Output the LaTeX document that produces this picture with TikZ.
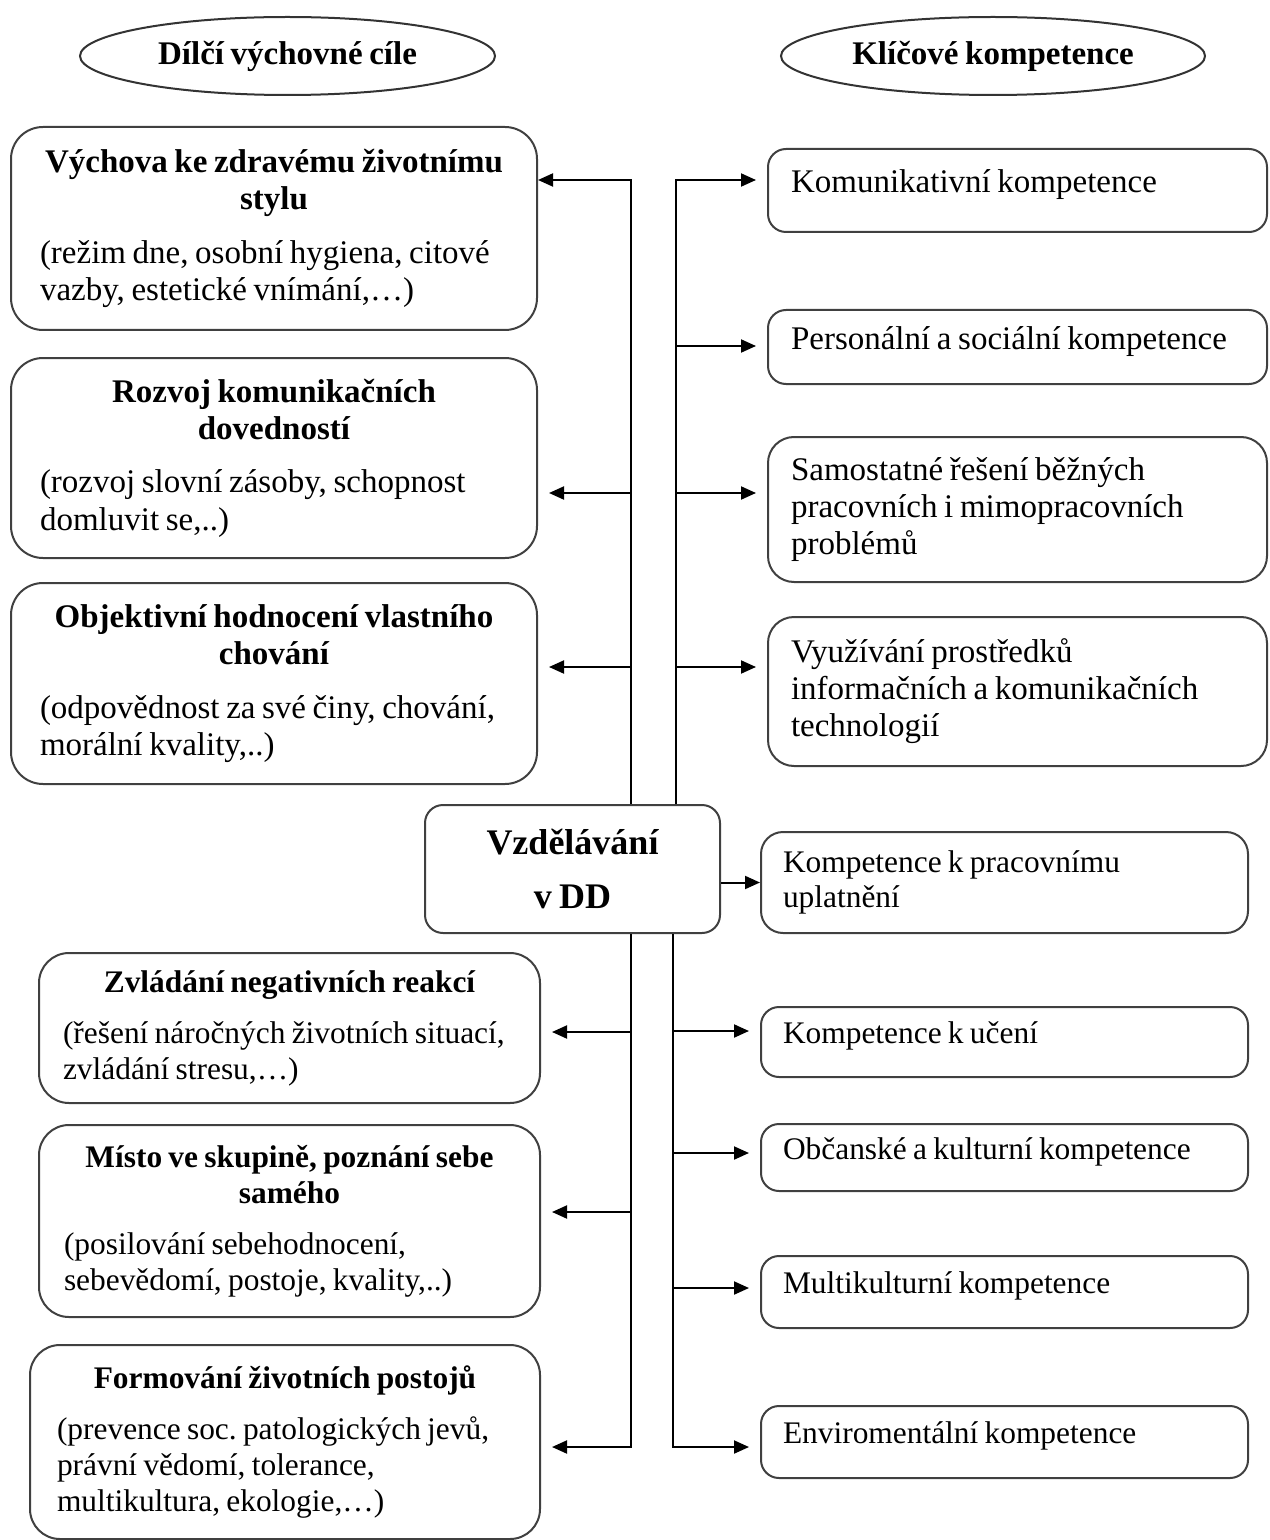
\documentclass[tikz,border=0pt]{standalone}
\usepackage{fontspec}
\setmainfont{Liberation Serif}[WordSpace=0.8]
\frenchspacing
\usetikzlibrary{arrows.meta,shapes,calc}

\tikzset{
  cil/.style={ellipse, draw=black!80, line width=1pt, minimum width=207.5pt, minimum height=39pt, font=\fontsize{16.5}{19}\selectfont\bfseries},
  lbox/.style={draw=black!75, line width=1pt, rounded corners=16pt, align=flush left, inner ysep=2pt, font=\fontsize{16.5}{18.7}\selectfont},
  ldbox/.style={lbox, rounded corners=15pt, font=\fontsize{15.7}{18}\selectfont},
  rbox/.style={draw=black!75, line width=1pt, rounded corners=9pt, align=flush left, inner xsep=11.5pt, inner ysep=2pt, text width=226.5pt, minimum width=249.5pt, font=\fontsize{16.5}{18.5}\selectfont},
  rdbox/.style={rbox, inner xsep=11pt, text width=221.5pt, minimum width=243.5pt, font=\fontsize{15.7}{17.5}\selectfont},
  jeden/.style={text depth=9pt},
  vetev/.style={->, line width=1pt},
  mezera/.style={shorten >=5.5pt}
}

\begin{document}
\begin{tikzpicture}[x=0.5pt, y=-0.5pt, >={Triangle[length=7.5pt,width=6.5pt]}]
\useasboundingbox (0,0) rectangle (1269,1540);

% hlavicky
\node [cil] (cile) at (287.5,56) {Dílčí výchovné cíle};
\node [cil, minimum width=212pt] (komp) at (993,56) {Klíčové kompetence};

% stred
\node [draw=black!75, line width=1pt, rounded corners=9pt, minimum width=147.5pt, minimum height=64pt, align=center, font=\fontsize{18}{27}\selectfont\bfseries] (vzd) at (572.5,869) {Vzdělávání\\v DD};

% leve boxy nahore
\node [lbox, inner xsep=14.5pt, text width=234pt, minimum width=263pt, minimum height=101.5pt] (L1) at (274,228.5)
  {{\centering\bfseries Výchova ke zdravému životnímu\\stylu\par}\vspace{8pt}(režim dne, osobní hygiena, citové\\vazby, estetické vnímání,…)};
\node [lbox, inner xsep=14.5pt, text width=234pt, minimum width=263pt, minimum height=100pt] (L2) at (274,458)
  {{\centering\bfseries Rozvoj komunikačních\\dovedností\par}\vspace{8pt}(rozvoj slovní zásoby, schopnost\\domluvit se,..)};
\node [lbox, inner xsep=14.5pt, text width=234pt, minimum width=263pt, minimum height=100.5pt] (L3) at (274,683.5)
  {{\centering\bfseries Objektivní hodnocení vlastního\\chování\par}\vspace{8pt}(odpovědnost za své činy, chování,\\morální kvality,..)};

% leve boxy dole
\node [ldbox, inner xsep=12pt, text width=226.5pt, minimum width=250.5pt, minimum height=75pt] (L4) at (289.5,1028)
  {{\centering\bfseries Zvládání negativních reakcí\par}\vspace{7.5pt}(řešení náročných životních situací,\\zvládání stresu,…)};
\node [ldbox, inner xsep=12.5pt, text width=225.5pt, minimum width=250.5pt, minimum height=96pt] (L5) at (289.5,1221)
  {{\centering\bfseries Místo ve skupině, poznání sebe\\samého\par}\vspace{7.5pt}(posilování sebehodnocení,\\sebevědomí, postoje, kvality,..)};
\node [ldbox, inner xsep=13.5pt, text width=228pt, minimum width=255pt, minimum height=97pt] (L6) at (285,1442)
  {{\centering\bfseries Formování životních postojů\par}\vspace{7.5pt}(prevence soc. patologických jevů,\\právní vědomí, tolerance,\\multikultura, ekologie,…)};

% prave boxy
\node [rbox, jeden, minimum height=41.5pt] (R1) at (1017.5,190.5) {Komunikativní kompetence};
\node [rbox, jeden, minimum height=37pt] (R2) at (1017.5,347) {Personální a sociální kompetence};
\node [rbox, rounded corners=13pt, minimum height=72.5pt] (R3) at (1017.5,509.5) {Samostatné řešení běžných\\pracovních i mimopracovních\\problémů};
\node [rbox, rounded corners=13pt, minimum height=74.5pt] (R4) at (1017.5,691.5) {Využívání prostředků\\informačních a komunikačních\\technologií};
\node [rdbox, rounded corners=11pt, minimum height=50.5pt] (R5) at (1004.5,882.5) {Kompetence k pracovnímu\\uplatnění};
\node [rdbox, jeden, minimum height=35pt] (R6) at (1004.5,1042) {Kompetence k učení};
\node [rdbox, jeden, minimum height=33.5pt] (R7) at (1004.5,1157.5) {Občanské a kulturní kompetence};
\node [rdbox, jeden, minimum height=36pt] (R8) at (1004.5,1292) {Multikulturní kompetence};
\node [rdbox, jeden, minimum height=36pt] (R9) at (1004.5,1442) {Enviromentální kompetence};

% odbocky
\coordinate (h1) at (631,180);
\coordinate (h2) at (631,493);
\coordinate (h3) at (631,667);
\coordinate (p1) at (676,180);
\coordinate (p2) at (676,346);
\coordinate (p3) at (676,493);
\coordinate (p4) at (676,667);
\coordinate (d1) at (631,1032);
\coordinate (d2) at (631,1212);
\coordinate (d3) at (631,1447);
\coordinate (q1) at (673,1031);
\coordinate (q2) at (673,1153);
\coordinate (q3) at (673,1288);
\coordinate (q4) at (673,1447);

\draw [vetev] (vzd.north -| h1) -- (h1) -- (h1 -| L1.east);
\draw [vetev, mezera] (h2) -- (h2 -| L2.east);
\draw [vetev, mezera] (h3) -- (h3 -| L3.east);
\draw [vetev, mezera] (vzd.north -| p1) -- (p1) -- (p1 -| R1.west);
\draw [vetev, mezera] (p2) -- (p2 -| R2.west);
\draw [vetev, mezera] (p3) -- (p3 -| R3.west);
\draw [vetev, mezera] (p4) -- (p4 -| R4.west);

\draw [vetev] (R5.west -| vzd.east) -- (R5.west);

\draw [vetev, mezera] (vzd.south -| d3) -- (d3) -- (d3 -| L6.east);
\draw [vetev, mezera] (d1) -- (d1 -| L4.east);
\draw [vetev, mezera] (d2) -- (d2 -| L5.east);
\draw [vetev, mezera] (vzd.south -| q4) -- (q4) -- (q4 -| R9.west);
\draw [vetev, mezera] (q1) -- (q1 -| R6.west);
\draw [vetev, mezera] (q2) -- (q2 -| R7.west);
\draw [vetev, mezera] (q3) -- (q3 -| R8.west);
\end{tikzpicture}
\end{document}
